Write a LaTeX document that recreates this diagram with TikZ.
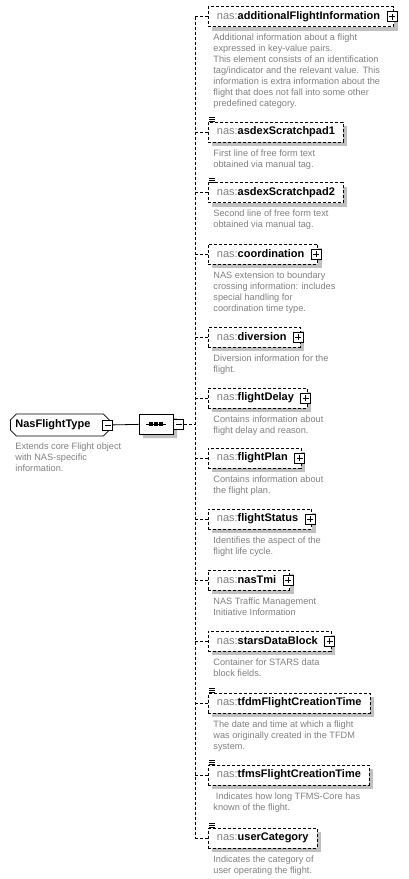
\documentclass[tikz,border=0pt]{standalone}
\usepackage{fontspec}
\setmainfont{Liberation Sans}
\usetikzlibrary{positioning,shapes.misc,shadows,calc}
\definecolor{NasGray}{RGB}{128,128,128}
\definecolor{ShadowGray}{RGB}{192,192,192}
\newcommand{\nas}[1]{{\color{NasGray}nas:}\textbf{#1}}
\newcommand{\pad}[1]{\hspace*{#1}\mbox{}}

\begin{document}
\begin{tikzpicture}[x=1pt,y=-1pt,line width=.8pt,
  elem/.style={draw,dash pattern=on 3pt off 2pt,fill=white,anchor=west,
    minimum height=20pt,inner xsep=8.5pt,inner ysep=0pt,font=\fontsize{11}{13}\selectfont,
    drop shadow={shadow xshift=4pt,shadow yshift=-4pt,fill=ShadowGray,opacity=1}},
  desc/.style={anchor=north west,align=left,inner sep=0pt,text=NasGray,
    font=\fontsize{9.2}{11}\selectfont},
  conn/.style={dash pattern=on 3pt off 2pt},
  pm/.style={draw,solid,fill=white,minimum size=10pt,inner sep=0pt},
  plus/.style={pm,path picture={
    \draw ([yshift=-2pt]path picture bounding box.north)--([yshift=2pt]path picture bounding box.south)
          ([xshift=2pt]path picture bounding box.west)--([xshift=-2pt]path picture bounding box.east);}},
  minus/.style={pm,path picture={
    \draw ([xshift=2pt]path picture bounding box.west)--([xshift=-2pt]path picture bounding box.east);}},
  chamf/.style={draw,chamfered rectangle,chamfered rectangle xsep=3pt,chamfered rectangle ysep=3pt},
  ]
\useasboundingbox (0,0) rectangle (409,879);

% root type and sequence
\node[chamf,anchor=west,minimum height=22pt,inner xsep=2pt,inner ysep=0pt,
  font=\fontsize{11}{13}\selectfont\bfseries] (root) at (10,425) {NasFlightType\pad{14pt}};
\node[minus] (rootm) at ([xshift=-2pt]root.east) {};
\node[desc] (root-d) at (15,442) {Extends core Flight object\\with NAS-specific\\information.};

\node[chamf,chamfered rectangle xsep=5pt,chamfered rectangle ysep=5pt,minimum width=34pt,
  minimum height=20pt,inner sep=0pt,fill=white,
  drop shadow={shadow xshift=4pt,shadow yshift=-4pt,fill=ShadowGray,opacity=1}] (seq) at (156,424) {};
\draw (seq.center) +(-10,0) -- +(10,0);
\foreach \d in {-5,0,5}
  \fill ([xshift=\d pt]seq.center) +(-1.6,-1.6) rectangle +(1.6,1.6);
\node[minus,anchor=west] (seqm) at (seq.east) {};
\draw (rootm) -- (seq);
\coordinate (bus) at (195,424);
\draw[conn] (seqm) -- (bus);

% children
\node[elem] (afi) at (208,16.5) {\nas{additionalFlightInformation}\pad{5pt}};
\node[plus] at ([xshift=-2pt]afi.east) {};
\node[desc,below right=7pt and 5pt of afi.south west] (afi-d) {Additional information about a flight\\expressed in key-value pairs.\\This element consists of an identification\\tag/indicator and the relevant value. This\\information is extra information about the\\flight that does not fall into some other\\predefined category.};

\node[elem] (asx1) at (208,132) {\nas{asdexScratchpad1}};
\node[desc,below right=7pt and 5pt of asx1.south west] (asx1-d) {First line of free form text\\obtained via manual tag.};

\node[elem] (asx2) at (208,192.5) {\nas{asdexScratchpad2}};
\node[desc,below right=7pt and 5pt of asx2.south west] (asx2-d) {Second line of free form text\\obtained via manual tag.};

\node[elem] (coord) at (208,254) {\nas{coordination}\pad{5pt}};
\node[plus] at ([xshift=-2pt]coord.east) {};
\node[desc,below right=7pt and 5pt of coord.south west] (coord-d) {NAS extension to boundary\\crossing information: includes\\special handling for\\coordination time type.};

\node[elem] (div) at (208,337) {\nas{diversion}\pad{5pt}};
\node[plus] at ([xshift=-2pt]div.east) {};
\node[desc,below right=7pt and 5pt of div.south west] (div-d) {Diversion information for the\\flight.};

\node[elem] (fdel) at (208,398) {\nas{flightDelay}\pad{5pt}};
\node[plus] at ([xshift=-2pt]fdel.east) {};
\node[desc,below right=7pt and 5pt of fdel.south west] (fdel-d) {Contains information about\\flight delay and reason.};

\node[elem] (fpl) at (208,458) {\nas{flightPlan}\pad{5pt}};
\node[plus] at ([xshift=-2pt]fpl.east) {};
\node[desc,below right=7pt and 5pt of fpl.south west] (fpl-d) {Contains information about\\the flight plan.};

\node[elem] (fst) at (208,519) {\nas{flightStatus}\pad{5pt}};
\node[plus] at ([xshift=-2pt]fst.east) {};
\node[desc,below right=7pt and 5pt of fst.south west] (fst-d) {Identifies the aspect of the\\flight life cycle.};

\node[elem] (tmi) at (208,580) {\nas{nasTmi}\pad{5pt}};
\node[plus] at ([xshift=-2pt]tmi.east) {};
\node[desc,below right=7pt and 5pt of tmi.south west] (tmi-d) {NAS Traffic Management\\Initiative Information};

\node[elem] (sdb) at (208,641) {\nas{starsDataBlock}\pad{5pt}};
\node[plus] at ([xshift=-2pt]sdb.east) {};
\node[desc,below right=7pt and 5pt of sdb.south west] (sdb-d) {Container for STARS data\\block fields.};

\node[elem] (tfdm) at (208,703) {\nas{tfdmFlightCreationTime}};
\node[desc,below right=7pt and 5pt of tfdm.south west] (tfdm-d) {The date and time at which a flight\\was originally created in the TFDM\\system.};

\node[elem] (tfms) at (208,775) {\nas{tfmsFlightCreationTime}};
\node[desc,below right=7pt and 5pt of tfms.south west] (tfms-d) {\ Indicates how long TFMS-Core has\\known of the flight.};

\node[elem] (ucat) at (208,838) {\nas{userCategory}};
\node[desc,below right=7pt and 5pt of ucat.south west] (ucat-d) {Indicates the category of\\user operating the flight.};

% simple-content marks
\foreach \n in {asx1,asx2,tfdm,tfms,ucat}
  \foreach \d in {0,2,4}
    \draw[line width=.7pt] ([xshift=1pt,yshift=\d pt]\n.north west) -- +(6,0);

% dashed connectors
\foreach \n in {afi,asx1,asx2,coord,div,fdel,fpl,fst,tmi,sdb,tfdm,tfms,ucat}
  \draw[conn] (\n.west) -- (\n.west -| bus);
\draw[conn] (afi.west -| bus) -- (ucat.west -| bus);
\end{tikzpicture}
\end{document}
